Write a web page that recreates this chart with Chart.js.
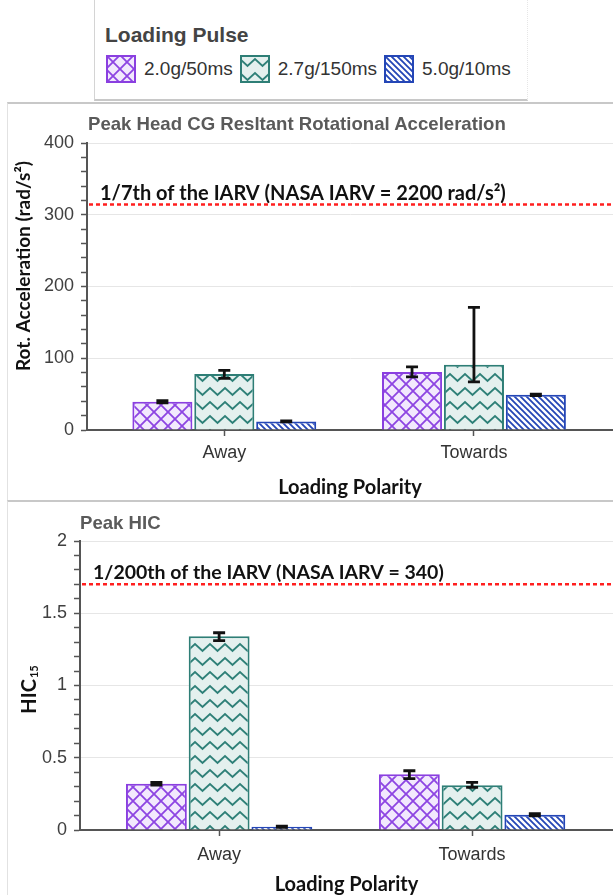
<!DOCTYPE html>
<html>
<head>
<meta charset="utf-8">
<script src="https://cdn.jsdelivr.net/npm/chart.js@4.4.1/dist/chart.umd.min.js"></script>
<style>
  html, body { margin: 0; padding: 0; background: #fff; }
  body { width: 613px; height: 895px; position: relative; overflow: hidden; font-family: 'Liberation Sans', Arial, sans-serif; }
  #legend { position: absolute; left: 94px; top: 0; width: 434px; height: 101px; box-sizing: border-box;
            border-left: 1px solid #d4d4d4; border-right: 1px dotted #e6e6e6; border-bottom: 2px solid #c8c8c8; }
  #legend .ltitle { position: absolute; left: 10px; top: 23px; font-weight: bold; font-size: 21px; color: #444; }
  #legend .items { position: absolute; left: 11px; top: 55px; display: flex; align-items: center; }
  .sw { width: 30px; height: 28px; margin-right: 8px; display: block; }
  .lab { font-size: 19px; color: #333; margin-right: 7px; }
  .panel { position: absolute; left: 7px; width: 606px; box-sizing: border-box; border-top: 2px solid #c8c8c8; border-left: 1px solid #e2e2e2; }
  canvas.chart { position: absolute; left: 0; }
  .ptitle { position: absolute; font-size: 18.6px; font-weight: bold; color: #5a5a5a; z-index: 2; line-height: 20px; }
</style>
</head>
<body>
<div id="legend">
  <div class="ltitle">Loading Pulse</div>
  <div class="items" id="legendItems"></div>
</div>

<div class="panel" style="top:102px;height:398px;"></div>
<div class="panel" style="top:500px;height:395px;"></div>

<div class="ptitle" style="left:88px;top:114px;">Peak Head CG Resltant Rotational Acceleration</div>
<div class="ptitle" style="left:80px;top:513px;">Peak HIC</div>

<canvas id="rotChart" class="chart" width="613" height="396" style="top:104px;"></canvas>
<canvas id="hicChart" class="chart" width="613" height="397" style="top:500px;"></canvas>

<script>
const categories = ['Away', 'Towards'];
const pulseLabels = ['2.0g/50ms', '2.7g/150ms', '5.0g/10ms'];

// peak head CG resultant rotational acceleration (rad/s²)
const rot20 = [39.5, 81];
const rot27 = [78, 91];
const rot50 = [12, 49];
const rotErrLo = [[1.5, 7], [6, 24], [0.8, 1]];
const rotErrHi = [[1.5, 7], [5, 80], [0.8, 1]];
const rotTicks = [0, 100, 200, 300, 400];
const rotLimit = 2200 / 7;

// peak HIC15
const hic20 = [0.32, 0.385];
const hic27 = [1.34, 0.31];
const hic50 = [0.022, 0.106];
const hicErrLo = [[0.01, 0.03], [0.03, 0.015], [0.004, 0.008]];
const hicErrHi = [[0.01, 0.025], [0.025, 0.02], [0.004, 0.008]];
const hicTicks = [0, 0.5, 1, 1.5, 2];
const hicLimit = 340 / 200;

const borders = ['#8a3fe0', '#2e7e76', '#2446b6'];

function makePattern(kind) {
  const c = document.createElement('canvas');
  const g = c.getContext('2d');
  if (kind === 0) {
    c.width = 14; c.height = 14;
    g.fillStyle = '#f2e9fd'; g.fillRect(0, 0, 14, 14);
    g.strokeStyle = '#8d45e2'; g.lineWidth = 1.8;
    g.beginPath();
    g.moveTo(-2, -2); g.lineTo(16, 16);
    g.moveTo(16, -2); g.lineTo(-2, 16);
    g.stroke();
  } else if (kind === 1) {
    c.width = 15; c.height = 14;
    g.fillStyle = '#e4f0ee'; g.fillRect(0, 0, 15, 14);
    g.strokeStyle = '#2f8078'; g.lineWidth = 2;
    g.beginPath();
    g.moveTo(-3.75, 9); g.lineTo(0, 4); g.lineTo(7.5, 11); g.lineTo(15, 4); g.lineTo(18.75, 9);
    g.stroke();
  } else {
    c.width = 6; c.height = 6;
    g.fillStyle = '#ffffff'; g.fillRect(0, 0, 6, 6);
    g.strokeStyle = '#2446b6'; g.lineWidth = 1.8;
    g.beginPath();
    g.moveTo(-1, -1); g.lineTo(7, 7);
    g.moveTo(-4, 2); g.lineTo(2, 8);
    g.moveTo(4, -2); g.lineTo(8, 2);
    g.stroke();
  }
  return g.createPattern(c, 'repeat');
}

const fills = [0, 1, 2].map(makePattern);

// legend swatches
const legendItems = document.getElementById('legendItems');
pulseLabels.forEach((name, i) => {
  const sw = document.createElement('canvas');
  sw.width = 30; sw.height = 28; sw.className = 'sw';
  const g = sw.getContext('2d');
  g.fillStyle = fills[i]; g.fillRect(1, 1, 28, 26);
  g.strokeStyle = borders[i]; g.lineWidth = 2; g.strokeRect(1, 1, 28, 26);
  legendItems.appendChild(sw);
  const lab = document.createElement('span');
  lab.className = 'lab'; lab.textContent = name;
  legendItems.appendChild(lab);
});

function makeOverlay(cfg) {
  return {
    id: 'overlay',
    afterDatasetsDraw(chart) {
      const { ctx, chartArea: a, scales: { y } } = chart;
      ctx.save();
      // error bars
      chart.data.datasets.forEach((ds, i) => {
        chart.getDatasetMeta(i).data.forEach((bar, j) => {
          const v = ds.data[j].y;
          const top = y.getPixelForValue(v + cfg.errHi[i][j]);
          const bot = y.getPixelForValue(v - cfg.errLo[i][j]);
          ctx.strokeStyle = '#111';
          ctx.lineWidth = 2.8;
          ctx.beginPath();
          ctx.moveTo(bar.x, top); ctx.lineTo(bar.x, bot);
          ctx.moveTo(bar.x - 6, top); ctx.lineTo(bar.x + 6, top);
          ctx.moveTo(bar.x - 6, bot); ctx.lineTo(bar.x + 6, bot);
          ctx.stroke();
        });
      });
      // IARV line
      const ly = y.getPixelForValue(cfg.limit);
      ctx.setLineDash([4, 3]);
      ctx.strokeStyle = '#ff1f1f';
      ctx.lineWidth = 2.5;
      ctx.beginPath(); ctx.moveTo(a.left + 2, ly); ctx.lineTo(a.right, ly); ctx.stroke();
      ctx.setLineDash([]);
      ctx.fillStyle = '#111';
      ctx.font = 'bold ' + cfg.limitSize + 'px Lato';
      ctx.textBaseline = 'alphabetic';
      ctx.textAlign = 'left';
      ctx.fillText(cfg.limitText, a.left + cfg.limitDx, ly - 5);
      // y title
      ctx.translate(cfg.yTitleX, cfg.yTitleY);
      ctx.rotate(-Math.PI / 2);
      if (cfg.yTitleSub) {
        ctx.textBaseline = 'alphabetic';
        ctx.font = 'bold 20px Lato';
        const w1 = ctx.measureText(cfg.yTitle).width;
        ctx.font = 'bold 11px Lato';
        const w2 = ctx.measureText(cfg.yTitleSub).width;
        ctx.font = 'bold 20px Lato';
        ctx.fillText(cfg.yTitle, -(w1 + w2) / 2, 0);
        ctx.font = 'bold 11px Lato';
        ctx.fillText(cfg.yTitleSub, -(w1 + w2) / 2 + w1 + 1, 2);
      } else {
        ctx.textBaseline = 'middle';
        ctx.textAlign = 'center';
        ctx.font = 'bold 19px Lato';
        ctx.fillText(cfg.yTitle, 0, 0);
      }
      ctx.restore();
    }
  };
}

function makeChart(id, cfg) {
  const ctx = document.getElementById(id).getContext('2d');
  const isMajor = v => cfg.ticks.some(t => Math.abs(t - v) < 1e-6);
  return new Chart(ctx, {
    type: 'bar',
    data: {
      datasets: cfg.series.map((vals, i) => ({
        label: pulseLabels[i],
        data: vals.map((v, j) => ({ x: j, y: v })),
        backgroundColor: fills[i],
        borderColor: borders[i],
        borderWidth: 2,
        borderSkipped: 'bottom',
        categoryPercentage: 0.744,
        barPercentage: 0.97
      }))
    },
    options: {
      responsive: false,
      animation: false,
      devicePixelRatio: 1,
      layout: { padding: { top: cfg.padTop, left: 0, right: 0, bottom: 0 } },
      plugins: { legend: { display: false }, tooltip: { enabled: false }, title: { display: false } },
      scales: {
        x: {
          type: 'linear',
          min: -0.55,
          max: 1.557,
          offset: false,
          afterBuildTicks: s => { s.ticks = categories.map((c, i) => ({ value: i })); },
          afterFit: s => { s.height = cfg.xHeight; },
          ticks: {
            callback: v => categories[v],
            font: { family: 'Liberation Sans', size: 18 },
            color: '#333',
            padding: cfg.xTickPad,
            autoSkip: false,
            maxRotation: 0
          },
          grid: { offset: false, drawOnChartArea: false, tickLength: 6, tickColor: '#555', tickWidth: 1.5 },
          border: { color: '#555', width: 2 },
          title: {
            display: true,
            text: 'Loading Polarity',
            font: { family: 'Lato', weight: 'bold', size: 20 },
            color: '#111',
            padding: 0
          }
        },
        y: {
          min: 0,
          max: cfg.ticks[cfg.ticks.length - 1],
          afterFit: s => { s.width = cfg.axisX; },
          ticks: {
            stepSize: cfg.step,
            autoSkip: false,
            callback: v => (isMajor(v) ? String(cfg.ticks.find(t => Math.abs(t - v) < 1e-6)) : ''),
            font: { family: 'Liberation Sans', size: 18 },
            color: '#404040',
            padding: 7
          },
          grid: {
            color: c => (c.tick && isMajor(c.tick.value) && c.tick.value > 0 ? '#e6e6e6' : 'rgba(0,0,0,0)'),
            tickColor: '#555',
            tickLength: 6,
            tickWidth: 1.5
          },
          border: { color: '#555', width: 2 }
        }
      }
    },
    plugins: [makeOverlay(cfg)]
  });
}

makeChart('rotChart', {
  series: [rot20, rot27, rot50],
  errLo: rotErrLo,
  errHi: rotErrHi,
  ticks: rotTicks,
  step: 20,
  limit: rotLimit,
  limitText: '1/7th of the IARV (NASA IARV = 2200 rad/s²)',
  limitSize: 20,
  limitDx: 13,
  padTop: 39,
  xHeight: 70,
  xTickPad: 6,
  axisX: 87,
  yTitle: 'Rot. Acceleration (rad/s²)',
  yTitleX: 24,
  yTitleY: 162
});

makeChart('hicChart', {
  series: [hic20, hic27, hic50],
  errLo: hicErrLo,
  errHi: hicErrHi,
  ticks: hicTicks,
  step: 0.1,
  limit: hicLimit,
  limitText: '1/200th of the IARV (NASA IARV = 340)',
  limitSize: 19.5,
  limitDx: 13,
  padTop: 41,
  xHeight: 67,
  xTickPad: 8,
  axisX: 80,
  yTitle: 'HIC',
  yTitleSub: '15',
  yTitleX: 36,
  yTitleY: 190
});
</script>
</body>
</html>
